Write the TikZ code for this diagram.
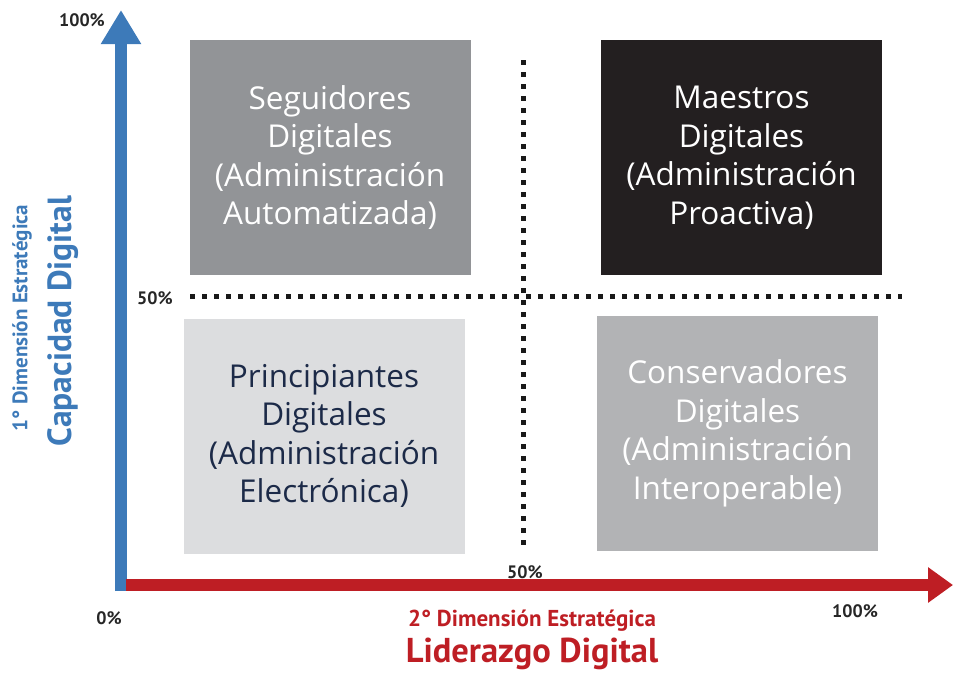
\documentclass[tikz,border=0pt]{standalone}
\usepackage{fontspec}
\setmainfont{Open Sans}
\newfontfamily\ejefont{PT Sans}
\usetikzlibrary{arrows.meta,positioning}
\definecolor{ejeazul}{HTML}{3D7AB9}
\definecolor{ejerojo}{HTML}{BE1E24}
\definecolor{grismedio}{HTML}{929497}
\definecolor{grisoscuro}{HTML}{231F20}
\definecolor{grisclaro}{HTML}{DCDDDF}
\definecolor{grisplata}{HTML}{B2B3B5}
\definecolor{textonavy}{HTML}{1C2A48}
\tikzset{
    every node/.style={inner sep=0pt},
    cuadro/.style={minimum width=281pt, minimum height=235pt, align=center, font=\fontsize{31.5}{38.5}\selectfont},
    pct/.style={font=\ejefont\bfseries\fontsize{18}{20}\selectfont, text=black!85},
    eje/.style={line width=12pt},
    punteado/.style={line width=5pt, dash pattern=on 5pt off 7pt, black!90},
}

\begin{document}
\begin{tikzpicture}[x=1pt, y=-1pt]
\useasboundingbox (0,0) rectangle (953,673);
% the four quadrants
\node[cuadro, fill=grismedio, text=white] (seguidores) at (330,157.5) {Seguidores\\Digitales\\(Administración\\Automatizada)};
\node[cuadro, fill=grisoscuro, text=white] (maestros) at (741.5,157.5) {Maestros\\Digitales\\(Administración\\Proactiva)};
\node[cuadro, fill=grisclaro, text=textonavy] (principiantes) at (324,436) {Principiantes\\Digitales\\(Administración\\Electrónica)};
\node[cuadro, fill=grisplata, text=white] (conservadores) at (737.5,433.5) {Conservadores\\Digitales\\(Administración\\Interoperable)};
% dotted 50% lines
\coordinate (hizq) at (190,296);
\coordinate (hder) at (902,296);
\coordinate (varr) at (523,60);
\coordinate (vaba) at (523,550);
\draw[punteado] (hizq) -- (hder);
\draw[punteado] (varr) -- (vaba);
% axes
\coordinate (origen) at (121,591);
\coordinate (ytope) at (121,10);
\coordinate (xinicio) at (126,585);
\coordinate (xtope) at (953,585);
\draw[eje, ejeazul, -{Triangle[length=34pt, width=38pt]}] (origen) -- (ytope);
\draw[eje, ejerojo, -{Triangle[length=25pt, width=34pt]}] (xinicio) -- (xtope);
% percentages
\node[pct] (p100y) at (82,20) {100\%};
\node[pct] (p50y) at (155,298) {50\%};
\node[pct] (p0) at (109,618) {0\%};
\node[pct] (p50x) at (525,572) {50\%};
\node[pct] (p100x) at (855,611) {100\%};
% axis titles
\node[font=\ejefont\bfseries\fontsize{23}{26}\selectfont, text=ejerojo] (dimx) at (532,621) {2° Dimensión Estratégica};
\node[font=\ejefont\bfseries\fontsize{34.5}{40}\selectfont, text=ejerojo] (lider) at (532,654) {Liderazgo Digital};
\node[font=\ejefont\bfseries\fontsize{21}{24}\selectfont, text=ejeazul, rotate=90] (dimy) at (22,318) {1° Dimensión Estratégica};
\node[font=\ejefont\bfseries\fontsize{33.5}{38}\selectfont, text=ejeazul, rotate=90] (capac) at (63,321) {Capacidad Digital};
\end{tikzpicture}
\end{document}
